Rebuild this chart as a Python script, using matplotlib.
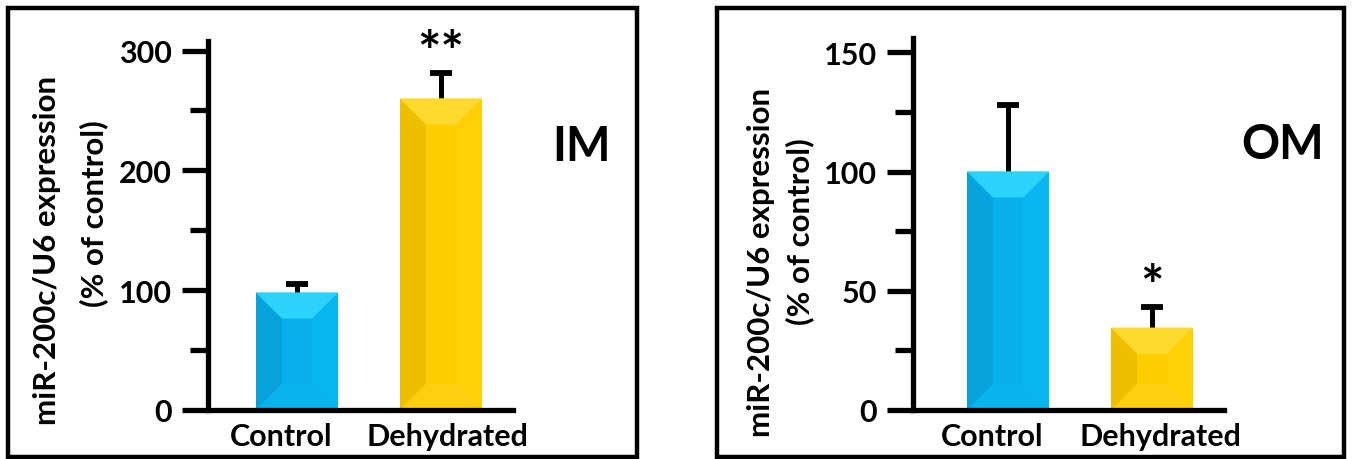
import matplotlib
matplotlib.use("Agg")
import matplotlib.pyplot as plt
from matplotlib.patches import Polygon, Rectangle
from matplotlib.ticker import MultipleLocator
from matplotlib.transforms import ScaledTranslation

plt.rcParams['font.family'] = ['Lato', 'DejaVu Sans']
plt.rcParams['font.weight'] = 'bold'

# data
groups = ["Control", "Dehydrated"]
im_values = [98, 260]
im_errors = [7, 21]
om_values = [100, 34.5]
om_errors = [28, 8.5]
im_stars = ["", "**"]
om_stars = ["", "*"]
ylabel_1 = "miR-200c/U6 expression"
ylabel_2 = "(% of control)"

bar_colors = ["#07B0EC", "#FFCC00"]
top_colors = ["#2BD2FA", "#FFDA2E"]
left_colors = ["#05A2DC", "#F0BE00"]
right_colors = ["#0AB6F0", "#FFCF08"]
bottom_colors = ["#09B3EE", "#FFCE10"]

W, H = 1352, 460
fig = plt.figure(figsize=(W / 100, H / 100), dpi=100)

# panel frames
for x0, x1 in [(8, 637), (717, 1344)]:
    fig.patches.append(Rectangle((x0 / W, 2 / H), (x1 - x0) / W, 449 / H,
                                 transform=fig.transFigure, fill=False,
                                 edgecolor="black", linewidth=3.2))


def bevel_bar(ax, rect, i, depth_px=26):
    # draw bevel faces on top of a bar, in pixel space
    fig.canvas.draw()
    x0, y0 = ax.transData.transform((rect.get_x(), 0))
    x1, y1 = ax.transData.transform((rect.get_x() + rect.get_width(), rect.get_height()))
    d = min(depth_px, (x1 - x0) / 2.2, (y1 - y0) / 2.2)
    inv = ax.transData.inverted()
    faces = [
        ([(x0, y0), (x0, y1), (x0 + d, y1 - d), (x0 + d, y0 + d)], left_colors[i]),
        ([(x1, y0), (x1, y1), (x1 - d, y1 - d), (x1 - d, y0 + d)], right_colors[i]),
        ([(x0, y0), (x1, y0), (x1 - d, y0 + d), (x0 + d, y0 + d)], bottom_colors[i]),
        ([(x0, y1), (x1, y1), (x1 - d, y1 - d), (x0 + d, y1 - d)], top_colors[i]),
    ]
    for pts, c in faces:
        ax.add_patch(Polygon(inv.transform(pts), closed=True, facecolor=c,
                             edgecolor="none", zorder=2.5))
    # thin bright rim along the top edge
    ax.add_patch(Polygon(inv.transform([(x0, y1), (x1, y1), (x1 - 3, y1 - 3), (x0 + 3, y1 - 3)]),
                         closed=True, facecolor=top_colors[i], edgecolor="none",
                         alpha=0.9, zorder=2.6))


def panel(rect, values, errors, stars, ytop, major, minor, tag, tag_xy,
          xlim, lab_x, lab_y, label_shift):
    ax = fig.add_axes(rect)
    x = list(range(len(groups)))
    bars = ax.bar(x, values, width=0.57, color=bar_colors, zorder=2)
    tops = [v + e for v, e in zip(values, errors)]
    ax.vlines(x, values, tops, color="black", linewidth=3.6, zorder=1)
    ax.plot(x, tops, linestyle="none", marker="_", markersize=16,
            markeredgewidth=4.2, color="black", zorder=1)
    ax.set_xlim(*xlim)
    ax.set_ylim(0, ytop)
    for i, b in enumerate(bars):
        bevel_bar(ax, b, i)
        if stars[i]:
            ax.annotate(stars[i], (x[i], tops[i]), xytext=(0, 14),
                        textcoords="offset points", ha="center", va="center",
                        fontsize=40, fontweight="bold")
    for s in ["top", "right"]:
        ax.spines[s].set_visible(False)
    ax.spines["left"].set_linewidth(3.8)
    ax.spines["bottom"].set_linewidth(3.8)
    ax.spines["left"].set_bounds(0, ytop)
    ax.yaxis.set_major_locator(MultipleLocator(major))
    ax.yaxis.set_minor_locator(MultipleLocator(minor))
    ax.tick_params(axis="y", which="major", length=19, width=3.8, labelsize=22, pad=7)
    ax.tick_params(axis="y", which="minor", length=13, width=3.8)
    ax.tick_params(axis="x", length=0, labelsize=22, pad=9)
    ax.set_xticks(x)
    ax.set_xticklabels(groups, fontweight="bold")
    for t, dx in zip(ax.get_xticklabels(), label_shift):
        t.set_transform(t.get_transform() + ScaledTranslation(dx / 100, 0, fig.dpi_scale_trans))
    for t in ax.get_yticklabels():
        t.set_fontweight("bold")
    ax.patch.set_alpha(0)
    fig.text(tag_xy[0] / W, 1 - tag_xy[1] / H, tag, ha="center", va="center",
             fontsize=34, fontweight="bold")
    fig.text(lab_x[0] / W, 1 - lab_y[0] / H, ylabel_1, rotation=90, ha="center",
             va="center", fontsize=22.5, fontweight="bold")
    fig.text(lab_x[1] / W, 1 - lab_y[1] / H, ylabel_2, rotation=90, ha="center",
             va="center", fontsize=22.5, fontweight="bold")
    return ax


panel([208 / W, 49 / H, 305 / W, 369 / H], im_values, im_errors, im_stars,
      308, 100, 50, "IM", (581, 147), (-0.618, 1.5), (47, 94), (250, 214), (-16, 6))
panel([913 / W, 49 / H, 311 / W, 372 / H], om_values, om_errors, om_stars,
      156, 50, 25, "OM", (1283, 145), (-0.66, 1.5), (761, 800), (262, 232), (-16, 8))

fig.savefig("out.png", dpi=100)
